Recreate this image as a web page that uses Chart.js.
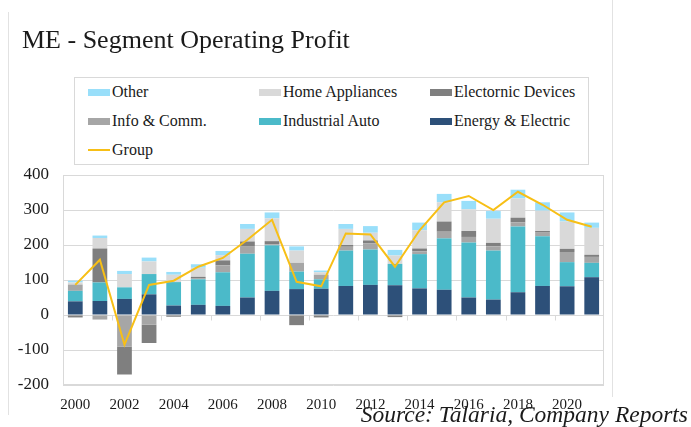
<!DOCTYPE html>
<html>
<head>
<meta charset="utf-8">
<script src="https://cdn.jsdelivr.net/npm/chart.js@4.4.1/dist/chart.umd.min.js"></script>
<style>
  body { margin: 0; background: #fff; }
  #wrap { position: relative; width: 691px; height: 427px; overflow: hidden; font-family: "Liberation Serif", serif; color: #1a1a1a; }
  #chart { position: absolute; left: 0; top: 0; }
  .frame { position: absolute; width: 1px; background: #e2e2e2; }
  #title { position: absolute; left: 22px; top: 25px; font-size: 26px; line-height: 30px; white-space: nowrap; }
  #legend { position: absolute; left: 74px; top: 77px; width: 515px; height: 88px; border: 1px solid #d9d9d9; box-sizing: border-box; background: #fff; }
  .item { position: absolute; font-size: 16px; line-height: 18px; white-space: nowrap; }
  .sw { display: inline-block; width: 22px; height: 7px; vertical-align: middle; margin-right: 2px; position: relative; top: -1px; }
  .sw.line { height: 2px; }
  #source { position: absolute; right: 3px; top: 401px; font-size: 23.5px; line-height: 26px; font-style: italic; white-space: nowrap; }
</style>
</head>
<body>
<div id="wrap">
  <canvas id="chart" width="691" height="427"></canvas>
  <div class="frame" style="left:8px; top:12px; height:403px;"></div>
  <div class="frame" style="left:612px; top:0px; height:397px;"></div>
  <div id="title">ME - Segment Operating Profit</div>
  <div id="legend"></div>
  <div id="source">Source: Talaria, Company Reports</div>
</div>
<script>
// Operating profit by segment
const years = ['2000', '2001', '2002', '2003', '2004', '2005', '2006', '2007', '2008', '2009', '2010',
               '2011', '2012', '2013', '2014', '2015', '2016', '2017', '2018', '2019', '2020', '2021'];
const energyElectric = [39, 40, 46, 59, 27, 29, 26, 50, 69, 74, 75, 83, 86, 85, 76, 72, 50, 44, 65, 83, 82, 108];
const industrialAuto = [30, 53, 33, 58, 67, 73, 96, 125, 130, 50, 27, 101, 101, 61, 98, 147, 157, 140, 188, 142, 69, 41];
const infoComm = [18, -13, -90, -28, 0, 2, 20, 22, 3, 25, 13, 11, 18, 0, 8, 19, 16, 12, 12, 12, 29, 17];
const electronicDevices = [-7, 97, -80, -52, -5, 5, 14, 13, 9, -29, -7, 5, 8, -6, 8, 29, 17, 10, 13, 3, 9, 6];
const homeAppliances = [6, 30, 38, 36, 21, 26, 15, 36, 65, 35, 7, 46, 22, 24, 52, 55, 62, 69, 55, 58, 78, 77];
const other = [5, 7, 9, 11, 8, 10, 12, 14, 17, 12, 5, 14, 19, 16, 22, 24, 24, 22, 25, 24, 26, 15];
const group = [86, 158, -85, 86, 98, 138, 163, 215, 272, 95, 82, 233, 230, 138, 242, 322, 340, 300, 352, 315, 272, 252];
const yTicks = [-200, -100, 0, 100, 200, 300, 400];

const textColor = '#1a1a1a';
const gridColor = '#d9d9d9';

function barSet(label, data, color) {
    return { type: 'bar', label: label, data: data, backgroundColor: color, order: 1,
             categoryPercentage: 1, barPercentage: 0.6 };
}

const datasets = [
    barSet('Energy & Electric', energyElectric, '#2d5079'),
    barSet('Industrial Auto', industrialAuto, '#4bbac9'),
    barSet('Info & Comm.', infoComm, '#a6a6a6'),
    barSet('Electornic Devices', electronicDevices, '#7f7f7f'),
    barSet('Home Appliances', homeAppliances, '#d9d9d9'),
    barSet('Other', other, '#99dffa'),
    { type: 'line', label: 'Group', data: group, stack: 'group', order: 0,
      borderColor: '#f7bf16', borderWidth: 2, pointRadius: 0, tension: 0, fill: false }
];

// plot box and little category ticks on the zero line
const plotFrame = {
    id: 'plotFrame',
    beforeDatasetsDraw(chart) {
        const { ctx, chartArea: a, scales: { x, y } } = chart;
        ctx.save();
        ctx.strokeStyle = gridColor;
        ctx.lineWidth = 1;
        ctx.strokeRect(a.left + 0.5, a.top + 0.5, a.width - 1, a.height - 1);
        const y0 = Math.round(y.getPixelForValue(0)) + 0.5;
        const half = (x.getPixelForValue(1) - x.getPixelForValue(0)) / 2;
        ctx.beginPath();
        years.forEach((yr, i) => {
            if (i % 2 === 0) {
                const px = Math.round(x.getPixelForValue(i) - half) + 0.5;
                ctx.moveTo(px, y0);
                ctx.lineTo(px, y0 + 5);
            }
        });
        ctx.stroke();
        ctx.restore();
    }
};

Chart.defaults.font.family = '"Liberation Serif", serif';

const chart = new Chart(document.getElementById('chart'), {
    type: 'bar',
    data: { labels: years, datasets: datasets },
    options: {
        responsive: false,
        animation: false,
        layout: { padding: { top: 175, right: 87, left: 0, bottom: 0 } },
        plugins: { legend: { display: false }, tooltip: { enabled: false } },
        scales: {
            x: {
                stacked: true,
                grid: { display: false },
                border: { display: false },
                ticks: {
                    autoSkip: false, maxRotation: 0, padding: 3, color: textColor, font: { size: 15 },
                    callback: (v, i) => (i % 2 === 0 ? years[i] : '')
                },
                afterFit: (s) => { s.height = 42; }
            },
            y: {
                stacked: true,
                min: yTicks[0],
                max: yTicks[yTicks.length - 1],
                afterBuildTicks: (s) => { s.ticks = yTicks.map((v) => ({ value: v })); },
                ticks: { padding: 14, color: textColor, font: { size: 17 } },
                grid: { color: gridColor, drawTicks: false },
                border: { display: false },
                afterFit: (s) => { s.width = 63; }
            }
        }
    },
    plugins: [plotFrame]
});

// legend laid out as in the reference: three columns, three rows
const legendOrder = ['Other', 'Home Appliances', 'Electornic Devices', 'Info & Comm.', 'Industrial Auto', 'Energy & Electric', 'Group'];
const colX = [13, 184, 355];
const rowY = [5, 34, 63];
const legendBox = document.getElementById('legend');
legendOrder.forEach((name, k) => {
    const ds = datasets.find((d) => d.label === name);
    const item = document.createElement('div');
    item.className = 'item';
    item.style.left = colX[k % 3] + 'px';
    item.style.top = rowY[Math.floor(k / 3)] + 'px';
    const sw = document.createElement('span');
    sw.className = ds.type === 'line' ? 'sw line' : 'sw';
    sw.style.background = ds.type === 'line' ? ds.borderColor : ds.backgroundColor;
    item.appendChild(sw);
    item.appendChild(document.createTextNode(name));
    legendBox.appendChild(item);
});
</script>
</body>
</html>
